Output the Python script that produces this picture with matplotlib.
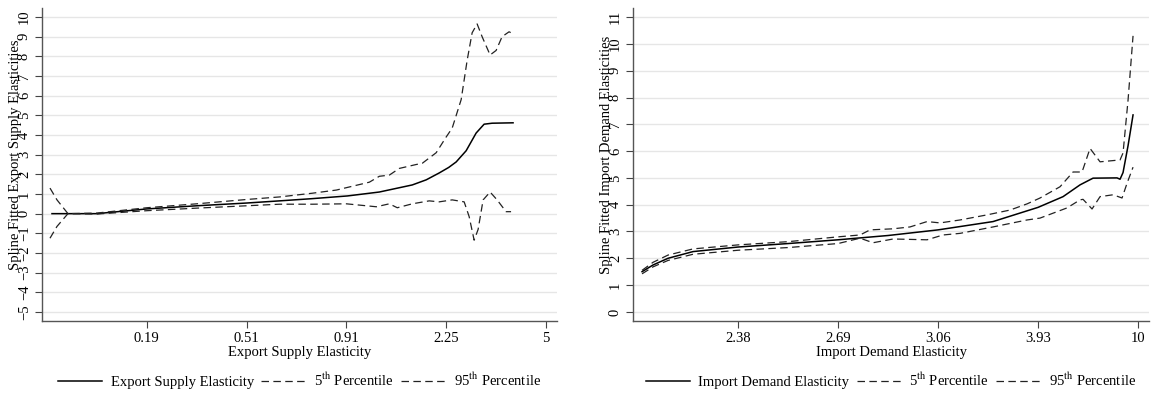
import numpy as np
import matplotlib
matplotlib.use("Agg")
import matplotlib.pyplot as plt

plt.rcParams['font.family'] = ['Liberation Serif', 'DejaVu Serif']
plt.rcParams['mathtext.fontset'] = 'stix'

# x positions are percentile ranks; tick labels give the elasticity at those ranks
tick_pos = [20, 40, 60, 80, 100]
export_ticklabels = ['0.19', '0.51', '0.91', '2.25', '5']
import_ticklabels = ['2.38', '2.69', '3.06', '3.93', '10']

# export supply: fitted spline
exp_fit_x = [1, 5, 10, 20, 30, 40, 46.6, 53, 60.2, 66.6, 73.2, 76, 78.6, 80.5, 82, 84, 86, 87.6, 89.2, 93.4]
exp_fit_y = [0, 0, 0.0, 0.24, 0.4, 0.54, 0.65, 0.76, 0.9, 1.1, 1.46, 1.72, 2.07, 2.35, 2.63, 3.2, 4.1, 4.55, 4.6, 4.62]
# export supply: 95th percentile band
exp_hi_x = [0.6, 2, 4.2, 10, 20, 30, 40, 46.6, 53.2, 58, 64.6, 66.6, 68.6, 70.6, 74, 75.2, 78, 80, 81.2,
            83, 84.2, 85.2, 86.2, 87.2, 88.8, 90, 91.2, 92.6, 93]
exp_hi_y = [1.3, 0.7, 0.0, 0.03, 0.3, 0.5, 0.72, 0.85, 1.04, 1.2, 1.6, 1.9, 1.96, 2.3, 2.5, 2.56, 3.1, 3.9, 4.35,
            5.8, 7.8, 9.2, 9.65, 9.0, 8.07, 8.3, 9.0, 9.25, 9.2]
# export supply: 5th percentile band
exp_lo_x = [0.6, 2, 4.2, 10, 20, 30, 40, 46.6, 53.2, 60, 66, 68.6, 70.2, 73.2, 76.6, 78.6, 81.2, 83.6,
            84.6, 85.6, 86.4, 87.4, 88.8, 90.2, 92, 93]
exp_lo_y = [-1.25, -0.65, 0.0, -0.02, 0.15, 0.28, 0.4, 0.48, 0.48, 0.5, 0.35, 0.5, 0.3, 0.5, 0.65, 0.6, 0.7, 0.6,
            -0.15, -1.35, -0.8, 0.7, 1.1, 0.7, 0.1, 0.1]

# import demand: fitted spline
imp_fit_x = [0.8, 3, 6, 11, 20, 30, 40, 50, 60, 71, 80, 85, 88.4, 91, 95.8, 96.4, 97, 98, 99]
imp_fit_y = [1.5, 1.75, 2.0, 2.25, 2.42, 2.55, 2.69, 2.85, 3.06, 3.37, 3.9, 4.3, 4.74, 4.99, 5.0, 4.95, 5.2, 6.2, 7.35]
# import demand: 95th percentile band
imp_hi_x = [0.8, 3, 6, 11, 20, 30, 40, 44.4, 46.4, 51, 54.4, 57.8, 60.4, 64.4, 69.8, 74.4, 77.8, 80.4,
            84.4, 87, 88.8, 90.4, 92.4, 96.4, 97, 98, 99]
imp_hi_y = [1.55, 1.85, 2.12, 2.35, 2.5, 2.62, 2.8, 2.87, 3.06, 3.1, 3.17, 3.37, 3.32, 3.43, 3.62, 3.8, 4.03, 4.25,
            4.67, 5.22, 5.22, 6.1, 5.6, 5.67, 5.93, 7.9, 10.3]
# import demand: 5th percentile band
imp_lo_x = [0.8, 3, 6, 11, 20, 30, 40, 44.4, 47, 51, 57.8, 61, 64.4, 71, 77.8, 80.4, 85.8, 88.4, 89,
            90.8, 92.4, 95, 96.8, 97.8, 99]
imp_lo_y = [1.42, 1.68, 1.92, 2.15, 2.3, 2.4, 2.55, 2.75, 2.58, 2.72, 2.69, 2.87, 2.93, 3.17, 3.43, 3.5, 3.88, 4.18, 4.2,
            3.84, 4.3, 4.37, 4.25, 4.8, 5.4]

fig = plt.figure(figsize=(11.51, 3.94), dpi=100)
ax1 = fig.add_axes([0.0365, 0.1853, 0.4474, 0.7944])
ax2 = fig.add_axes([0.5500, 0.1853, 0.4483, 0.7944])

panels = [
    (ax1, exp_fit_x, exp_fit_y, exp_lo_x, exp_lo_y, exp_hi_x, exp_hi_y, export_ticklabels,
     'Export Supply Elasticity', 'Spline Fitted Export Supply Elasticities', range(-5, 11), (-5.46, 10.46)),
    (ax2, imp_fit_x, imp_fit_y, imp_lo_x, imp_lo_y, imp_hi_x, imp_hi_y, import_ticklabels,
     'Import Demand Elasticity', 'Spline Fitted Import Demand Elasticities', range(0, 12), (-0.34, 11.34)),
]

fs = 10.5
for ax, fx, fy, lx, ly, hx, hy, xtl, name, ylab, yt, ylim in panels:
    ax.plot(fx, fy, color='black', lw=1.1, label=name)
    ax.plot(lx, ly, color='#222222', lw=0.9, dashes=(6, 3.5), label=r'5$^{\mathrm{th}}$ Percentile')
    ax.plot(hx, hy, color='#222222', lw=0.9, dashes=(6, 3.5), label=r'95$^{\mathrm{th}}$ Percentile')

    ax.set_xlim(-1, 102.2)
    ax.set_ylim(*ylim)
    ax.set_xticks(tick_pos)
    ax.set_xticklabels(xtl, fontsize=fs)
    ax.set_yticks(list(yt))
    ax.set_yticklabels([str(v).replace('-', '\u2212') for v in yt], fontsize=fs, rotation=90, va='center')
    ax.tick_params(axis='both', direction='out', length=5, width=0.8, color='#444444', pad=3)

    ax.grid(axis='y', color='#e6e6e6', lw=1.0)
    ax.set_axisbelow(True)
    for s in ['top', 'right']:
        ax.spines[s].set_visible(False)
    for s in ['left', 'bottom']:
        ax.spines[s].set_color('#555555')
        ax.spines[s].set_linewidth(1.0)

    ax.set_xlabel(name, fontsize=fs, labelpad=1)
    ax.set_ylabel(ylab, fontsize=fs)
    ax.yaxis.set_label_coords(-0.038, 0.53)

    ax.legend(loc='center', bbox_to_anchor=(0.5, -0.19), ncol=3, frameon=False, fontsize=fs,
              handlelength=3.0, columnspacing=0.5, handletextpad=0.6)

fig.savefig('out.png', dpi=100)
